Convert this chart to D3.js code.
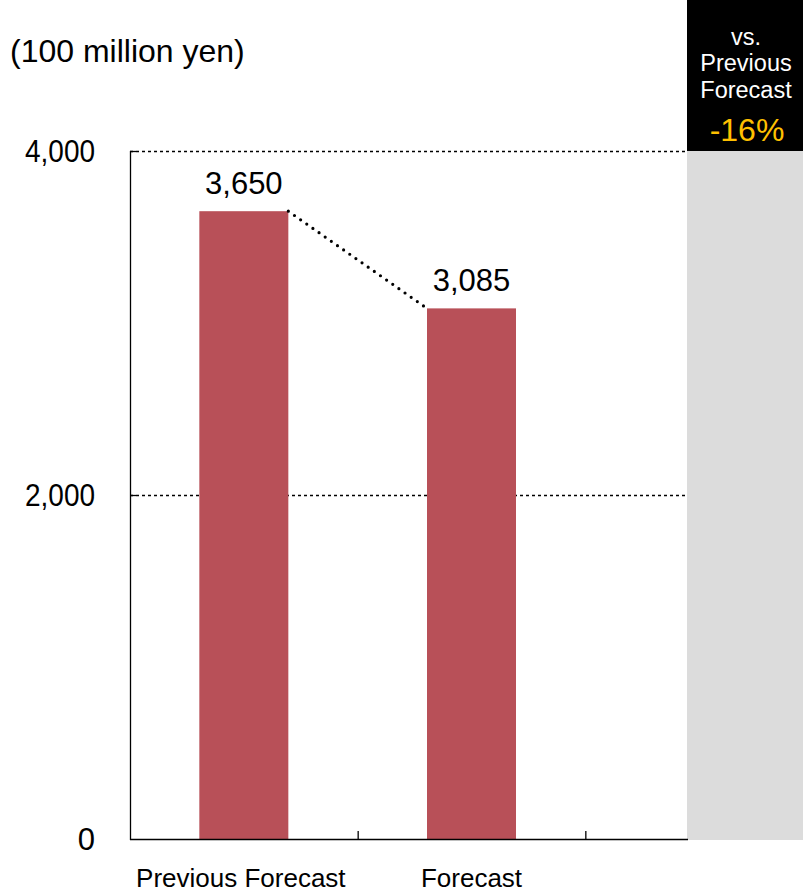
<!DOCTYPE html>
<html>
<head>
<meta charset="utf-8">
<script src="https://cdn.jsdelivr.net/npm/d3@7"></script>
<style>
  body { margin: 0; background: #fff; }
  text { font-family: "Liberation Sans", Arial, sans-serif; }
</style>
</head>
<body>
<div id="chart"></div>
<script>
var categories = ["Previous Forecast", "Forecast", ""];
var values = [3650, 3085];
var valueLabels = ["3,650", "3,085"];
var yTicks = [0, 2000, 4000];
var unitLabel = "(100 million yen)";
var boxLines = ["vs.", "Previous", "Forecast"];
var changeLabel = "-16%";

var width = 803, height = 893;
var x0 = 130, x1 = 813, yTop = 151, yBottom = 839;
var panelX = 687;

var svg = d3.select("#chart").append("svg")
  .attr("width", width)
  .attr("height", height);

var x = d3.scaleBand().domain(categories).range([x0, x1]).paddingInner(0).paddingOuter(0);
var y = d3.scaleLinear().domain([0, 4000]).range([yBottom, yTop]);
var barW = 89;

/* gray panel and black box */
svg.append("rect")
  .attr("x", panelX).attr("y", yTop)
  .attr("width", width - panelX).attr("height", yBottom - yTop + 1)
  .attr("fill", "#dcdcdc");
svg.append("rect")
  .attr("x", panelX).attr("y", 0)
  .attr("width", width - panelX).attr("height", yTop)
  .attr("fill", "#000");

var boxCx = panelX + (width - panelX) / 2 + 1;
var boxY = [45, 71, 98];
svg.selectAll(".boxline").data(boxLines).enter().append("text")
  .attr("x", boxCx).attr("y", (d, i) => boxY[i])
  .attr("text-anchor", "middle")
  .attr("fill", "#fff")
  .attr("font-size", "23.5px")
  .text(d => d);
svg.append("text")
  .attr("x", boxCx + 1).attr("y", 141)
  .attr("text-anchor", "middle")
  .attr("fill", "#ffc000")
  .attr("font-size", "32px")
  .text(changeLabel);

/* gridlines */
svg.selectAll(".grid").data(yTicks.filter(d => d > 0)).enter().append("line")
  .attr("x1", x0).attr("x2", panelX)
  .attr("y1", d => y(d) + 0.5).attr("y2", d => y(d) + 0.5)
  .attr("stroke", "#000").attr("stroke-width", 1.3)
  .attr("stroke-dasharray", "3,3");

/* bars */
svg.selectAll(".bar").data(values).enter().append("rect")
  .attr("x", (d, i) => x(categories[i]) + (x.bandwidth() - barW) / 2)
  .attr("y", d => y(d))
  .attr("width", barW)
  .attr("height", d => y(0) - y(d))
  .attr("fill", "#b85058");

/* value labels */
svg.selectAll(".vlabel").data(values).enter().append("text")
  .attr("x", (d, i) => x(categories[i]) + x.bandwidth() / 2)
  .attr("y", d => y(d) - 17)
  .attr("text-anchor", "middle")
  .attr("font-size", "31px")
  .attr("fill", "#000")
  .text((d, i) => valueLabels[i]);

/* dotted connector */
svg.append("line")
  .attr("x1", x(categories[0]) + (x.bandwidth() + barW) / 2)
  .attr("y1", y(values[0]))
  .attr("x2", x(categories[1]) + (x.bandwidth() - barW) / 2)
  .attr("y2", y(values[1]))
  .attr("stroke", "#000").attr("stroke-width", 3.2)
  .attr("stroke-linecap", "round")
  .attr("stroke-dasharray", "0,7.5");

/* axes */
svg.append("line")
  .attr("x1", x0 + 0.5).attr("x2", x0 + 0.5)
  .attr("y1", yTop).attr("y2", yBottom + 1)
  .attr("stroke", "#000").attr("stroke-width", 1.3);
svg.append("line")
  .attr("x1", x0).attr("x2", panelX + 1)
  .attr("y1", yBottom + 0.5).attr("y2", yBottom + 0.5)
  .attr("stroke", "#000").attr("stroke-width", 1.3);
svg.selectAll(".ytick").data(yTicks.filter(d => d > 0)).enter().append("line")
  .attr("x1", x0).attr("x2", x0 + 6)
  .attr("y1", d => y(d) + 0.5).attr("y2", d => y(d) + 0.5)
  .attr("stroke", "#000").attr("stroke-width", 1.3);
svg.selectAll(".xtick").data(categories.slice(1)).enter().append("line")
  .attr("x1", d => x(d) + 0.5).attr("x2", d => x(d) + 0.5)
  .attr("y1", yBottom - 8).attr("y2", yBottom)
  .attr("stroke", "#000").attr("stroke-width", 1.3);

svg.selectAll(".ylabel").data(yTicks).enter().append("text")
  .attr("x", 95).attr("y", d => y(d) + 11)
  .attr("text-anchor", "end")
  .attr("font-size", "31px")
  .attr("textLength", d => d === 0 ? null : 70)
  .attr("lengthAdjust", "spacingAndGlyphs")
  .attr("fill", "#000")
  .text(d => d3.format(",")(d));

svg.selectAll(".xlabel").data(categories.filter(d => d)).enter().append("text")
  .attr("x", (d, i) => x(d) + x.bandwidth() / 2 - (i === 0 ? 3 : 0))
  .attr("y", 887)
  .attr("text-anchor", "middle")
  .attr("font-size", "26px")
  .attr("fill", "#000")
  .text(d => d);

svg.append("text")
  .attr("x", 10).attr("y", 62)
  .attr("font-size", "32px")
  .attr("fill", "#000")
  .text(unitLabel);
</script>
</body>
</html>
